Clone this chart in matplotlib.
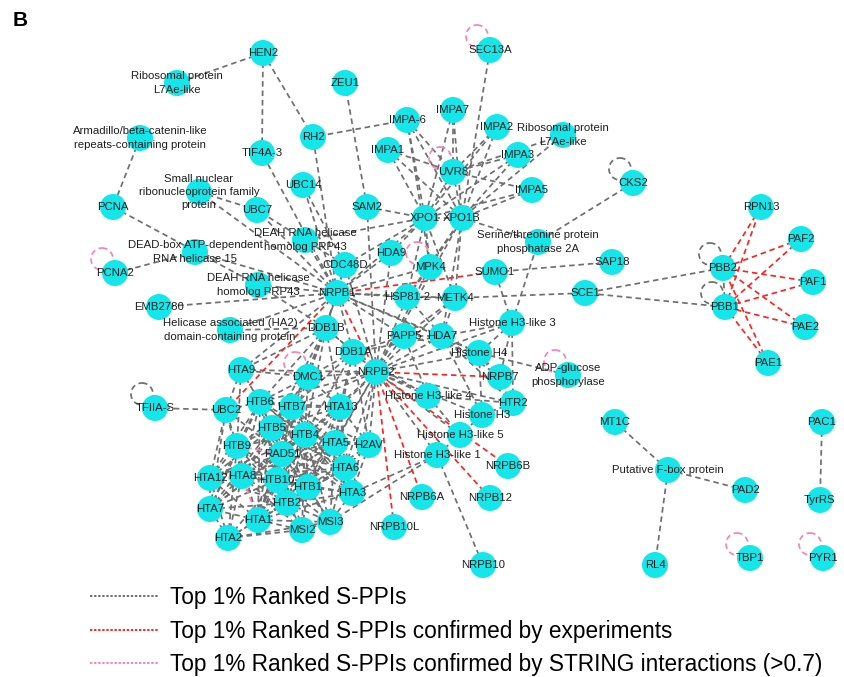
import matplotlib
matplotlib.use("Agg")
import matplotlib.pyplot as plt
from matplotlib.patches import Circle
from matplotlib.lines import Line2D

plt.rcParams['font.family'] = ['Liberation Sans', 'DejaVu Sans']

# ---- network data -------------------------------------------------------
# displayed label for each protein node
labels = {
    'L7Ae_a': 'Ribosomal protein\nL7Ae-like',
    'L7Ae_b': 'Ribosomal protein\nL7Ae-like',
    'ARM': 'Armadillo/beta-catenin-like\nrepeats-containing protein',
    'SNRNP': 'Small nuclear\nribonucleoprotein family\nprotein',
    'DEAD15': 'DEAD-box ATP-dependent\nRNA helicase 15',
    'PRP43_a': 'DEAH RNA helicase\nhomolog PRP43',
    'PRP43_b': 'DEAH RNA helicase\nhomolog PRP43',
    'HA2': 'Helicase associated (HA2)\ndomain-containing protein',
    'PP2A': 'Serine/threonine protein\nphosphatase 2A',
    'ADPG': 'ADP-glucose\nphosphorylase',
    'H3L3': 'Histone H3-like 3',
    'H3L4': 'Histone H3-like 4',
    'H3L5': 'Histone H3-like 5',
    'H3L1': 'Histone H3-like 1',
    'H4': 'Histone H4',
    'H3': 'Histone H3',
    'FBOX': 'Putative F-box protein',
}

# node layout in pixel space (x to the right, y downwards)
layout = {
    'HEN2': (263, 53), 'L7Ae_a': (177, 83), 'ZEU1': (345, 83),
    'RH2': (313, 137), 'IMPA-6': (407, 120), 'IMPA1': (388, 150),
    'TIF4A-3': (262, 153), 'ARM': (140, 138), 'UBC14': (303, 185),
    'SNRNP': (199, 192), 'PCNA': (113, 207), 'UBC7': (257, 210),
    'SAM2': (367, 207), 'SEC13A': (490, 50), 'IMPA7': (453, 110),
    'IMPA2': (497, 127), 'L7Ae_b': (563, 135), 'IMPA3': (518, 155),
    'UVR8': (453, 172), 'IMPA5': (532, 190), 'CKS2': (633, 183),
    'XPO1': (425, 218), 'XPO1B': (462, 218), 'PP2A': (538, 242),
    'RPN13': (761, 207), 'PAF2': (801, 239), 'SAP18': (612, 262),
    'MPK4': (430, 267), 'SUMO1': (495, 272), 'PBB2': (723, 268),
    'PAF1': (813, 282), 'SCE1': (585, 293), 'METK4': (455, 298),
    'PBB1': (725, 307), 'PAE2': (805, 327), 'PAE1': (768, 363),
    'PCNA2': (115, 273), 'DEAD15': (195, 252), 'PRP43_a': (305, 240),
    'CDC48D': (345, 265), 'HDA9': (391, 253), 'PRP43_b': (258, 285),
    'NRPB1': (337, 293), 'EMB2780': (159, 307), 'HA2': (230, 330),
    'DDB1B': (326, 328), 'HSP81-2': (407, 297), 'PAPP5': (404, 336),
    'HDA7': (442, 336), 'DDB1A': (353, 352), 'NRPB2': (376, 372),
    'HTA9': (241, 370), 'DMC1': (308, 377), 'H3L3': (512, 323),
    'H4': (479, 353), 'ADPG': (568, 375), 'NRPB7': (500, 377),
    'H3L4': (428, 396), 'HTR2': (513, 403), 'H3': (482, 415),
    'H3L5': (460, 435), 'H3L1': (437, 455), 'NRPB6B': (508, 466),
    'NRPB12': (490, 498), 'NRPB6A': (422, 497), 'NRPB10L': (394, 527),
    'NRPB10': (483, 565), 'TFIIA-S': (155, 408), 'UBC2': (226, 410),
    'HTB6': (260, 402), 'HTB7': (292, 407), 'HTA13': (340, 407),
    'HTB5': (272, 428), 'HTB4': (305, 435), 'HTA5': (335, 443),
    'H2AV': (369, 445), 'HTB9': (237, 446), 'RAD51': (282, 454),
    'HTA6': (345, 468), 'HTA12': (210, 478), 'HTA8': (242, 476),
    'HTB10': (277, 480), 'HTB1': (308, 487), 'HTA3': (352, 493),
    'HTB2': (287, 503), 'HTA7': (210, 509), 'HTA1': (258, 520),
    'MSI3': (330, 522), 'MSI2': (302, 530), 'HTA2': (228, 538),
    'MT1C': (615, 422), 'FBOX': (668, 470), 'PAD2': (745, 490),
    'PAC1': (822, 422), 'TyrRS': (820, 500), 'RL4': (655, 565),
    'TBP1': (750, 558), 'PYR1': (823, 558),
}

# top 1% ranked S-PPIs (neighbour lists)
grey_adj = {
    'HEN2': 'L7Ae_a TIF4A-3 RH2',
    'RH2': 'IMPA-6 NRPB1',
    'ZEU1': 'SAM2',
    'TIF4A-3': 'NRPB1',
    'UBC14': 'NRPB1 CDC48D',
    'ARM': 'PCNA',
    'PCNA': 'PRP43_b',
    'SNRNP': 'UBC7 NRPB1',
    'UBC7': 'NRPB1 CDC48D',
    'SAM2': 'XPO1 NRPB2',
    'DEAD15': 'PCNA2 NRPB1',
    'PRP43_a': 'NRPB1 XPO1',
    'PRP43_b': 'NRPB1 DDB1B',
    'EMB2780': 'NRPB1',
    'HA2': 'NRPB1 DDB1B',
    'IMPA-6': 'UVR8 XPO1 XPO1B MPK4',
    'IMPA1': 'UVR8 XPO1 XPO1B',
    'IMPA7': 'UVR8 XPO1 XPO1B',
    'IMPA2': 'UVR8 XPO1 XPO1B',
    'IMPA3': 'UVR8 XPO1 XPO1B',
    'IMPA5': 'UVR8 XPO1 XPO1B',
    'L7Ae_b': 'UVR8 XPO1B',
    'SEC13A': 'XPO1B',
    'UVR8': 'XPO1 XPO1B',
    'XPO1': 'XPO1B MPK4 HDA9 NRPB1 CDC48D HSP81-2 METK4',
    'XPO1B': 'MPK4 METK4 HDA7 PP2A HSP81-2 NRPB2',
    'CDC48D': 'NRPB1 NRPB2 DDB1B',
    'HDA9': 'NRPB1 NRPB2',
    'MPK4': 'NRPB1 NRPB2 HSP81-2',
    'HSP81-2': 'NRPB2 HDA7 METK4',
    'METK4': 'SCE1 NRPB2 HDA7 PAPP5',
    'SUMO1': 'SAP18 H3L3',
    'PP2A': 'CKS2 H3L3',
    'SCE1': 'PBB2 PBB1',
    'PBB2': 'PBB1',
    'NRPB1': 'DDB1B DDB1A PAPP5 HTA9 DMC1 HSP81-2 METK4 HDA7 H4',
    'NRPB2': 'DDB1A DDB1B PAPP5 HDA7 H4 H3L3 HTR2 H3 H3L4 H3L5 H3L1 H2AV '
             'HTA13 HTA5 HTA6 DMC1 HTA9 HTB7 HTB4 HTB6 HTB1 HTA3',
    'HDA7': 'H4 H3L3 NRPB7 HTR2 H3 PAPP5 DDB1A',
    'PAPP5': 'H4 H3L4 DDB1A',
    'H4': 'ADPG HTR2 H3L3 NRPB7 H3',
    'H3L3': 'HTR2 NRPB7',
    'H3L4': 'HTR2 DDB1A H3L5',
    'H3': 'HTR2 H3L5',
    'H3L1': 'NRPB10 MSI3 HTA3 H3L5',
    'DDB1A': 'DDB1B DMC1 HTA13 HTB7 HTA5 H2AV HTB4',
    'DDB1B': 'DMC1 HTA9 HTB6 HTB7 HTA13 HTB5 HTB4',
    'DMC1': 'HTA9 HTB6 HTB7 HTA13 HTB5 HTB4 RAD51',
    'HTA9': 'UBC2 HTB6 HTB9',
    'UBC2': 'TFIIA-S HTB6 HTB9 HTA12 HTA8 HTA7 RAD51',
    'HTB6': 'HTB7 HTA13 HTB5 HTB4 HTA5 HTB9 RAD51 HTA6 HTA12 HTA8 HTB10 HTB1 HTB2 HTA7 HTA1',
    'HTB7': 'HTA13 HTB5 HTB4 HTA5 H2AV HTB9 RAD51 HTA6 HTA8 HTB10 HTB1 HTA3 HTB2 HTA1',
    'HTA13': 'HTB5 HTB4 HTA5 H2AV RAD51 HTA6 HTB10 HTB1 HTA3 HTB2',
    'HTB5': 'HTB4 HTA5 HTB9 RAD51 HTA6 HTA12 HTA8 HTB10 HTB1 HTA3 HTB2 HTA7 HTA1 MSI3',
    'HTB4': 'HTA5 H2AV HTB9 RAD51 HTA6 HTA12 HTA8 HTB10 HTB1 HTA3 HTB2 HTA7 HTA1 MSI2 MSI3',
    'HTA5': 'H2AV RAD51 HTA6 HTA8 HTB10 HTB1 HTA3 HTB2 HTA1 MSI3',
    'H2AV': 'HTA6 HTA3 HTB1',
    'HTB9': 'RAD51 HTA12 HTA8 HTB10 HTB1 HTB2 HTA7 HTA1 HTA2',
    'RAD51': 'HTA6 HTA12 HTA8 HTB10 HTB1 HTA3 HTB2 HTA7 HTA1 MSI2 MSI3',
    'HTA6': 'HTB10 HTB1 HTA3 HTB2 HTA1 MSI3 HTA8',
    'HTA12': 'HTA8 HTB10 HTB2 HTA7 HTA1 HTA2',
    'HTA8': 'HTB10 HTB1 HTB2 HTA7 HTA2 MSI2',
    'HTB10': 'HTB1 HTA3 HTB2 HTA7 HTA1 MSI2 MSI3 HTA2',
    'HTB1': 'HTA3 HTB2 HTA1 MSI2 MSI3',
    'HTA3': 'HTB2 MSI3 HTA1',
    'HTB2': 'HTA7 HTA1 MSI2 MSI3 HTA2',
    'HTA7': 'HTA1 HTA2',
    'HTA1': 'MSI2 HTA2 MSI3',
    'MSI3': 'MSI2 HTA2',
    'MSI2': 'HTA2',
    'MT1C': 'FBOX',
    'FBOX': 'PAD2 RL4',
    'PAC1': 'TyrRS',
}

# S-PPIs confirmed by experiments
red_adj = {
    'NRPB1': 'UBC2 NRPB2 SUMO1',
    'NRPB2': 'NRPB7 NRPB6B NRPB12 NRPB6A NRPB10L',
    'PBB2': 'RPN13 PAF2 PAF1 PAE2 PAE1',
    'PBB1': 'RPN13 PAF2 PAF1 PAE2 PAE1',
}

# S-PPIs confirmed by STRING interactions (>0.7)
pink_adj = {
    'HTA8': 'HTA1',
    'HTB9': 'RAD51',
}

grey_loops = ['CKS2', 'PBB2', 'PBB1', 'TFIIA-S']
pink_loops = ['SEC13A', 'UVR8', 'MPK4', 'PCNA2', 'ADPG', 'DMC1', 'TBP1', 'PYR1']

legend_labels = [
    'Top 1% Ranked S-PPIs',
    'Top 1% Ranked S-PPIs confirmed by experiments',
    'Top 1% Ranked S-PPIs confirmed by STRING interactions (>0.7)',
]

# ---- styles -------------------------------------------------------------
GREY = '#6f6f6f'
RED = '#ff2424'
PINK = '#ff80b4'
NODE = '#14e6ea'
TEXT = '#1e1e1e'
R_NODE = 13
DASH = (0, (3.2, 2.2))


def pairs(adj):
    out = []
    for a, nbrs in adj.items():
        for b in nbrs.split():
            out.append(tuple(sorted((a, b))))
    return list(dict.fromkeys(out))


red_edges = pairs(red_adj)
pink_edges = pairs(pink_adj)
special = set(red_edges) | set(pink_edges)
grey_edges = [e for e in pairs(grey_adj) if e not in special]

W, H = 844, 677
fig = plt.figure(figsize=(W / 100, H / 100), dpi=100)
ax = fig.add_axes([0, 0, 1, 1])
ax.set_xlim(0, W)
ax.set_ylim(H, 0)
ax.set_aspect('equal')
ax.axis('off')


def draw_edges(edges, color, z):
    for a, b in edges:
        (x1, y1), (x2, y2) = layout[a], layout[b]
        ax.plot([x1, x2], [y1, y2], color=color, lw=1.25, ls=DASH,
                zorder=z, solid_capstyle='butt')


draw_edges(grey_edges, GREY, 1)
draw_edges(pink_edges, PINK, 1.5)
draw_edges(red_edges, RED, 1.6)

for names, color in ((grey_loops, GREY), (pink_loops, PINK)):
    for n in names:
        x, y = layout[n]
        ax.add_patch(Circle((x - 13, y - 14), 11, fill=False, ec=color,
                            lw=1.25, ls=(0, (3.2, 2.2)), zorder=1.2))

for n, (x, y) in layout.items():
    ax.add_patch(Circle((x, y), R_NODE, fc=NODE, ec='none', zorder=2))

for n, (x, y) in layout.items():
    ax.text(x, y, labels.get(n, n), ha='center', va='center', fontsize=8.2,
            color=TEXT, linespacing=1.42, zorder=3)

ax.text(13, 20, 'B', fontsize=15, fontweight='bold', ha='left', va='center',
        color='black')

handles = [Line2D([], [], color=c, lw=1.4, ls=(0, (1.2, 0.9)))
           for c in (GREY, RED, PINK)]
ax.legend(handles, legend_labels, loc='upper left',
          bbox_to_anchor=(90 / W, 1 - 586 / H), frameon=False,
          fontsize=16.3, handlelength=3.05, handletextpad=0.5,
          labelspacing=0.47, borderpad=0, borderaxespad=0)

fig.savefig('out.png', dpi=100)
